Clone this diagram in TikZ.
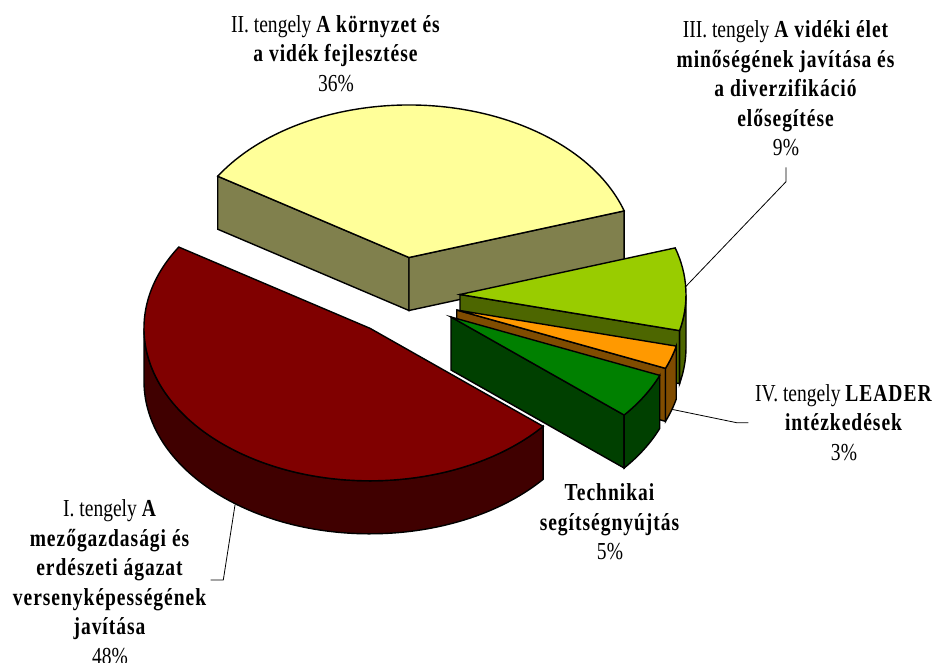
\documentclass[tikz,border=0pt]{standalone}
\usepackage{fontspec}
\setmainfont{Liberation Serif}[FakeStretch=0.8,BoldFeatures={LetterSpace=4}]
\definecolor{yt}{HTML}{FFFF99}\definecolor{ys}{HTML}{80804D}
\definecolor{rt}{HTML}{800000}\definecolor{rs}{HTML}{400000}
\definecolor{tt}{HTML}{008000}\definecolor{ts}{HTML}{004000}
\definecolor{ot}{HTML}{FF9900}\definecolor{os}{HTML}{804C00}
\definecolor{gt}{HTML}{99CC00}\definecolor{gs}{HTML}{4D6600}
\tikzset{
  face/.style={draw=black,line width=1.4pt,line join=miter},
  lbl/.style={align=center,inner sep=0pt,anchor=north,font=\fontsize{24.4}{29.5}\selectfont},
  leader/.style={draw=black,line width=0.8pt}
}
\newcommand\radface[2]{\filldraw[face,fill=#2] (0,0) -- (#1:226pt and 152.5pt) -- ++(0,-53) -- (0,-53) -- cycle;}
\newcommand\outface[3]{\filldraw[face,fill=#3] (#1:226pt and 152.5pt) arc[start angle=#1,end angle=#2,x radius=226pt,y radius=152.5pt] -- ++(0,-53) arc[start angle=#2,end angle=#1,x radius=226pt,y radius=152.5pt] -- cycle;}
\newcommand\topface[3]{\filldraw[face,fill=#3] (0,0) -- (#1:226pt and 152.5pt) arc[start angle=#1,end angle=#2,x radius=226pt,y radius=152.5pt] -- cycle;}
\begin{document}
\begin{tikzpicture}[x=1pt,y=1pt]
\useasboundingbox (0,0) rectangle (938,-662);
% II yellow
\begin{scope}[shift={(409,-257.5)}]
  \radface{147.8}{ys}
  \radface{17.8}{ys}
  \topface{17.8}{147.8}{yt}
\end{scope}
% III light green
\begin{scope}[shift={(460,-294.5)}]
  \radface{346.3}{gs}
  \outface{346.3}{360}{gs}
  \topface{346.3}{377.8}{gt}
\end{scope}
% IV orange
\begin{scope}[shift={(456.7,-310)}]
  \radface{337.5}{os}
  \outface{337.5}{346.3}{os}
  \topface{337.5}{346.3}{ot}
\end{scope}
% Technikai
\begin{scope}[shift={(451,-317)}]
  \radface{320}{ts}
  \outface{320}{337.5}{ts}
  \topface{320}{337.5}{tt}
\end{scope}
% I red
\begin{scope}[shift={(370,-328.3)}]
  \outface{180}{320}{rs}
  \topface{147.8}{320}{rt}
\end{scope}
% labels
\node[lbl] (lII) at (336,-15.1) {II. tengely \textbf{A környzet és}\\\textbf{a vidék fejlesztése}\\36\%};
\node[lbl] (lIII) at (786,-20.7) {III. tengely \textbf{A vidéki élet}\\\textbf{minőségének javítása és}\\\textbf{a diverzifikáció}\\\textbf{elősegítése}\\9\%};
\node[lbl] (lIV) at (844,-384.1) {IV. tengely \textbf{LEADER}\\\textbf{intézkedések}\\3\%};
\node[lbl] (lT) at (610,-483.4) {\textbf{Technikai}\\\textbf{segítségnyújtás}\\5\%};
\node[lbl] (lI) at (110,-499.4) {I. tengely \textbf{A}\\\textbf{mezőgazdasági és}\\\textbf{erdészeti ágazat}\\\textbf{versenyképességének}\\\textbf{javítása}\\48\%};
% leader anchor points
\coordinate (pIII) at (685,-287.3);
\coordinate (kIII) at (786,-181.7);
\coordinate (sIII) at (786,-167.3);
\coordinate (pIV) at (671.7,-409.3);
\coordinate (kIV) at (736.7,-422.7);
\coordinate (sIV) at (748.3,-422.7);
\coordinate (pI) at (235,-505);
\coordinate (kI) at (223.3,-580);
\coordinate (sI) at (210.7,-580);
\draw[leader] (sIII) -- (kIII) -- (pIII);
\draw[leader] (sIV) -- (kIV) -- (pIV);
\draw[leader] (sI) -- (kI) -- (pI);
\end{tikzpicture}
\end{document}
